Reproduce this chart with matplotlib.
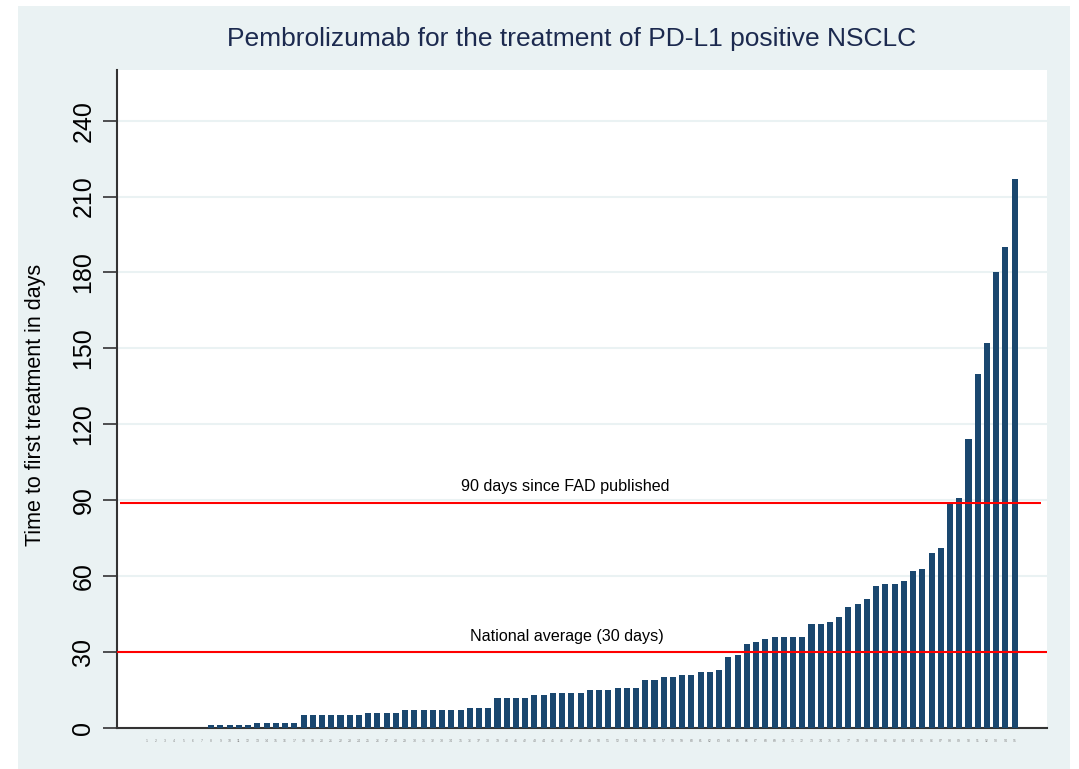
import matplotlib
matplotlib.use("Agg")
from matplotlib import pyplot as plt
from matplotlib.patches import Rectangle

plt.rcParams['font.family'] = ['Liberation Sans', 'DejaVu Sans']

# days from FAD publication to first treatment, one bar per trust (sorted)
days = [0, 0, 0, 0, 0, 0, 0,
        1, 1, 1, 1, 1,
        2, 2, 2, 2, 2,
        5, 5, 5, 5, 5, 5, 5,
        6, 6, 6, 6,
        7, 7, 7, 7, 7, 7, 7,
        8, 8, 8,
        12, 12, 12, 12,
        13, 13,
        14, 14, 14, 14,
        15, 15, 15,
        16, 16, 16,
        19, 19, 20, 20, 21, 21, 22, 22, 23,
        28, 29, 33, 34, 35, 36, 36, 36, 36,
        41, 41, 42, 44, 48, 49, 51, 56, 57, 57, 58,
        62, 63, 69, 71, 89, 91, 114, 140, 152, 180, 190, 217]
labels = [str(i + 1) for i in range(len(days))]
yticks = [0, 30, 60, 90, 120, 150, 180, 210, 240]
nat_avg = 30
fad_line = 89

navy = "#1a476f"
bg = "#eaf2f3"

fig = plt.figure(figsize=(10.79, 7.69), dpi=100)
fig.patch.set_facecolor("white")
fig.patches.append(Rectangle((18/1079, 0), (1070-18)/1079, 1 - 6/769,
                             transform=fig.transFigure, facecolor=bg,
                             edgecolor="none", zorder=-10))

ax = fig.add_axes([117/1079, 1 - 728/769, (1047-117)/1079, (728-70)/769])
ax.set_facecolor("white")

x = list(range(len(days)))
ax.bar(x, days, width=0.66, color=navy, zorder=3)

ax.axhline(nat_avg, color="red", lw=1.5, zorder=4)
ax.hlines(fad_line, -2.9, 96.8, color="red", lw=1.5, zorder=4)

ax.annotate("90 days since FAD published", (45.3, fad_line), xytext=(0, 6),
            textcoords="offset points", ha="center", va="bottom", fontsize=11.6)
ax.annotate("National average (30 days)", (45.5, nat_avg), xytext=(0, 6),
            textcoords="offset points", ha="center", va="bottom", fontsize=11.6)

ax.set_xlim(-3.2, 97.5)
ax.set_ylim(0, 260)
ax.set_yticks(yticks)
ax.set_yticklabels([str(t) for t in yticks], rotation=90, va="center", fontsize=18)
ax.tick_params(axis="y", length=10, width=1.2, color="#333333", pad=5.5)
ax.set_xticks(x)
ax.set_xticklabels(labels, fontsize=2.5, color="#888888")
ax.tick_params(axis="x", length=0, pad=8)

ax.grid(axis="y", color=bg, lw=1.5, zorder=0)
ax.set_axisbelow(True)
for s in ["top", "right"]:
    ax.spines[s].set_visible(False)
for s in ["left", "bottom"]:
    ax.spines[s].set_color("#333333")
    ax.spines[s].set_linewidth(1.5)

ax.set_ylabel("Time to first treatment in days", fontsize=15.5)
ax.yaxis.set_label_coords(-0.0763, 0.491)

fig.text(572/1079, 1 - 39/769, "Pembrolizumab for the treatment of PD-L1 positive NSCLC",
         ha="center", va="center", fontsize=19, color="#1c2a4f")

fig.savefig("out.png", dpi=100)
